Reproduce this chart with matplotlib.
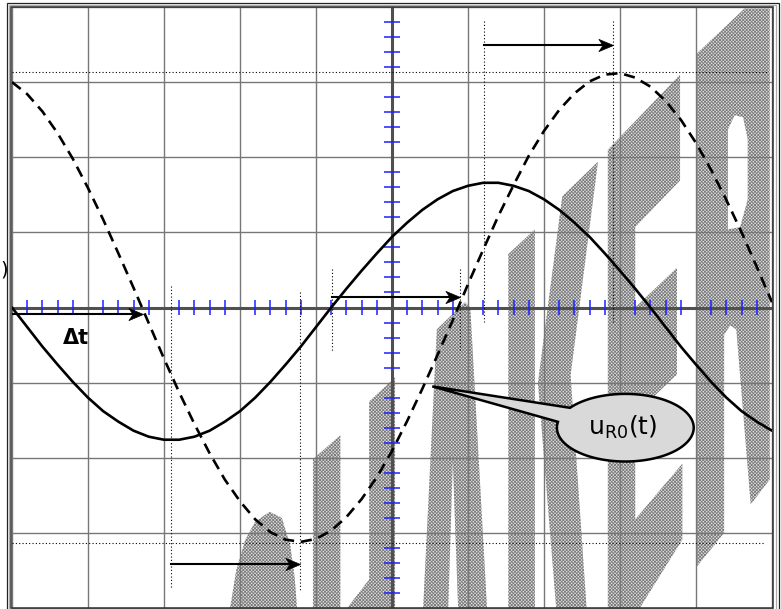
import numpy as np
import matplotlib
matplotlib.use("Agg")
import matplotlib.pyplot as plt
from matplotlib.patches import Polygon, Rectangle
from matplotlib.path import Path

# ---- data (units = grid divisions) ----
t = np.round(np.arange(51) * 0.2 - 5, 1)

u_solid = [0.00, -0.26, -0.52, -0.76, -0.99, -1.20, -1.38, -1.52, -1.64, -1.72,
           -1.76, -1.76, -1.72, -1.64, -1.52, -1.38, -1.20, -0.99, -0.76, -0.52,
           -0.26, 0.00, 0.25, 0.49, 0.72, 0.94, 1.13, 1.30, 1.44, 1.55,
           1.62, 1.66, 1.66, 1.62, 1.55, 1.44, 1.30, 1.13, 0.94, 0.72,
           0.49, 0.25, 0.00, -0.26, -0.52, -0.76, -0.99, -1.20, -1.38, -1.52,
           -1.64]

u_dashed = [3.00, 2.84, 2.61, 2.32, 1.98, 1.59, 1.17, 0.72, 0.26, -0.21,
            -0.68, -1.13, -1.55, -1.94, -2.29, -2.58, -2.82, -2.99, -3.09, -3.12,
            -3.08, -2.97, -2.79, -2.55, -2.26, -1.91, -1.51, -1.08, -0.63, -0.17,
            0.31, 0.77, 1.22, 1.63, 2.02, 2.35, 2.63, 2.85, 3.01, 3.10,
            3.12, 3.06, 2.94, 2.75, 2.50, 2.19, 1.83, 1.43, 1.00, 0.54,
            0.07]

# dotted marker lines
vdot_x = [-2.91, -1.21, -0.79, 0.895, 1.21, 2.91]
vdot_top = [0.28, 0.21, 0.51, 0.51, 3.82, 3.81]
vdot_bot = [-3.73, -3.79, -0.59, -0.56, -0.19, -0.19]
hdot_y = [3.13, -3.14]
hdot_x0 = [-5.0, -5.0]
hdot_x1 = [4.93, 4.91]

# time shift arrows
arrow_x0 = [-5.0, -2.91, -0.79, 1.21]
arrow_x1 = [-3.28, -1.21, 0.895, 2.91]
arrow_y = [-0.09, -3.42, 0.14, 3.49]

# background watermark letters (grid units)
watermark = [
    [(-2.13, -4), (-2.05, -3.5), (-1.93, -3.09), (-1.80, -2.85), (-1.61, -2.72),
     (-1.45, -2.8), (-1.34, -3.16), (-1.28, -3.6), (-1.25, -4)],
    [(-1.04, -4), (-1.04, -2.02), (-0.68, -1.70), (-0.68, -4)],
    [(-0.59, -4), (-0.30, -3.62), (-0.30, -1.25), (0.04, -0.93), (0.04, -4)],
    [(0.41, -4), (0.59, -0.29), (0.96, 0.07), (1.03, 0.0), (1.25, -4),
     (0.87, -4), (0.80, -2.05), (0.74, -4)],
    [(1.53, -4), (1.53, 0.71), (1.88, 1.04), (1.88, -4)],
    [(2.24, 1.48), (2.71, 1.94), (2.35, -0.9), (2.56, -4), (2.16, -4), (1.92, -1.0)],
    [(2.84, -4), (2.84, 2.10), (3.79, 3.10), (3.79, 1.69), (3.20, 1.07), (3.20, 0.0),
     (3.75, 0.53), (3.75, -0.89), (3.20, -1.42), (3.20, -2.82), (3.82, -2.08),
     (3.82, -3.09), (3.26, -4)],
    [(4.01, -3.45), (4.01, 3.38), (4.64, 3.98), (4.97, 3.98), (4.97, -2.29),
     (4.72, -2.62), (4.53, -0.29), (4.45, -0.24), (4.37, -0.36), (4.37, -3.0)],
]
r_hole = [(4.42, 1.04), (4.42, 2.37), (4.51, 2.56), (4.62, 2.53), (4.68, 2.24),
          (4.68, 1.44), (4.58, 1.07)]

plt.rcParams["hatch.linewidth"] = 0.6

W, H = 781, 609
fig = plt.figure(figsize=(W / 100, H / 100), dpi=100)
fig.patch.set_facecolor("white")
ax = fig.add_axes([12 / W, 1 / H, 760 / W, 601 / H])
ax.set_xlim(-5, 5)
ax.set_ylim(-4, 4)
ax.axis("off")

# watermark
for pts in watermark:
    ax.add_patch(Polygon(pts, closed=True, facecolor="#e2e2e2", edgecolor="#7c7c7c",
                         hatch="x" * 10, lw=0, zorder=1))
ax.add_patch(Polygon(r_hole, closed=True, facecolor="white", lw=0, zorder=1.1))

# grid
for gx in range(-5, 6):
    ax.plot([gx, gx], [-4, 4], color="#777777", lw=1.0, zorder=2, clip_on=False)
for gy in range(-4, 5):
    ax.plot([-5, 5], [gy, gy], color="#777777", lw=1.0, zorder=2, clip_on=False)
ax.plot([-5, 5], [0, 0], color="#505050", lw=2.2, zorder=2.1)
ax.plot([0, 0], [-4, 4], color="#505050", lw=2.2, zorder=2.1)

# blue subdivision ticks
tx = t[np.abs(t - np.round(t)) > 0.05]
ty_all = np.round(np.arange(41) * 0.2 - 4, 1)
ty = ty_all[np.abs(ty_all - np.round(ty_all)) > 0.05]
ax.vlines(tx, -0.1, 0.1, color="#1f1fff", lw=1.1, zorder=2.2)
ax.hlines(ty, -0.105, 0.105, color="#1f1fff", lw=1.1, zorder=2.2)

# dotted helper lines
for x, y0, y1 in zip(vdot_x, vdot_top, vdot_bot):
    ax.plot([x, x], [y0, y1], color="black", lw=0.8, ls=(0, (1, 2)), zorder=2.5)
for y, x0, x1 in zip(hdot_y, hdot_x0, hdot_x1):
    ax.plot([x0, x1], [y, y], color="black", lw=0.8, ls=(0, (1, 2)), zorder=2.5)

# signals
ax.plot(t, u_solid, color="black", lw=1.9, zorder=3, solid_capstyle="round")
ax.plot(t, u_dashed, color="black", lw=1.9, ls=(0, (4.2, 2.6)), zorder=3)

# arrows with stealth heads
head = Path([(0, 0), (-1, 0.42), (-0.72, 0), (-1, -0.42), (0, 0)],
            [Path.MOVETO, Path.LINETO, Path.LINETO, Path.LINETO, Path.CLOSEPOLY])
for x0, x1, y in zip(arrow_x0, arrow_x1, arrow_y):
    ax.plot([x0, x1 - 0.05], [y, y], color="black", lw=1.5, zorder=4)
    ax.plot([x1], [y], marker=head, ms=21, color="black", mec="black",
            mew=0.5, zorder=4.1)

ax.text(-4.33, -0.49, "\u0394t", fontsize=15, fontweight="bold",
        family="DejaVu Sans", ha="left", va="baseline", zorder=6)

# callout bubble
cx, cy, ra, rb = 3.07, -1.60, 0.90, 0.45
ang = np.radians(np.linspace(170, 504, 160))
bubble = list(zip(cx + ra * np.cos(ang), cy + rb * np.sin(ang)))
bubble.append((0.53, -1.05))
ax.add_patch(Polygon(bubble, closed=True, facecolor="#d9d9d9", edgecolor="black",
                     lw=1.8, zorder=5, joinstyle="miter"))
ax.text(3.04, -1.60, r"u$_{\mathregular{R0}}$(t)", fontsize=18, ha="center",
        va="center", zorder=6)

# label fragment at left edge
fig.text(0.5 / W, 1 - 270 / H, ")", fontsize=14, ha="left", va="center")

# screen frame
def frame(x0, y0, x1, y1, color, lw):
    fig.add_artist(Rectangle((x0 / W, 1 - y1 / H), (x1 - x0) / W, (y1 - y0) / H,
                             transform=fig.transFigure, fill=False, ec=color, lw=lw))

frame(7, 3, 779, 612, "#222222", 0.9)
frame(9, 5, 776, 612, "#aaaaaa", 0.9)
frame(11, 7, 773, 608, "#333333", 1.1)

fig.savefig("out.png", dpi=100)
